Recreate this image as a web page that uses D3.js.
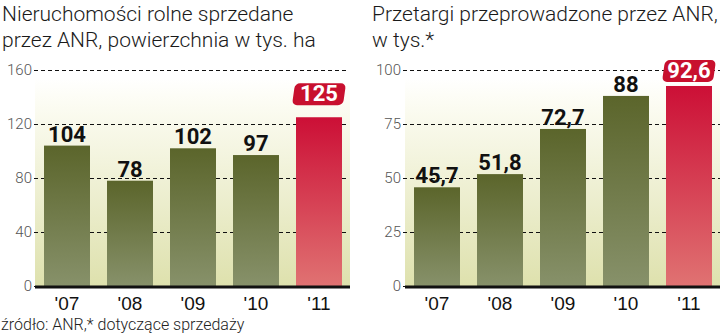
<!DOCTYPE html>
<html><head><meta charset="utf-8">
<script src="https://cdn.jsdelivr.net/npm/d3@7"></script>
<style>
html,body{margin:0;padding:0;background:#fff;}
svg{display:block;}
</style></head>
<body>
<svg id="chart" width="720" height="336"></svg>
<script>
const years = ["'07","'08","'09","'10","'11"];
const areaValues = [104, 78, 102, 97, 125];
const areaLabels = ["104","78","102","97","125"];
const areaTicks = [0, 40, 80, 120, 160];
const tenderValues = [45.7, 51.8, 72.7, 88, 92.6];
const tenderLabels = ["45,7","51,8","72,7","88","92,6"];
const tenderTicks = [0, 25, 50, 75, 100];
const titleArea = ["Nieruchomości rolne sprzedane", "przez ANR, powierzchnia w tys. ha"];
const titleTender = ["Przetargi przeprowadzone przez ANR,", "w tys.*"];
const sourceNote = "źródło: ANR,* dotyczące sprzedaży";

const svg = d3.select("#chart");
const defs = svg.append("defs");

const bg = defs.append("linearGradient").attr("id","bgGrad").attr("x1",0).attr("y1",0).attr("x2",0).attr("y2",1);
bg.append("stop").attr("offset","0%").attr("stop-color","#ffffff");
bg.append("stop").attr("offset","12%").attr("stop-color","#fcfcf3");
bg.append("stop").attr("offset","100%").attr("stop-color","#dee1ad");

const og = defs.append("linearGradient").attr("id","oliveGrad").attr("x1",0).attr("y1",0).attr("x2",0).attr("y2",1);
og.append("stop").attr("offset","0%").attr("stop-color","#5b652b");
og.append("stop").attr("offset","100%").attr("stop-color","#87916a");

const rg = defs.append("linearGradient").attr("id","redGrad").attr("x1",0).attr("y1",0).attr("x2",0).attr("y2",1);
rg.append("stop").attr("offset","0%").attr("stop-color","#cc0f36");
rg.append("stop").attr("offset","100%").attr("stop-color","#e07272");

const FONT = "Roboto, 'Liberation Sans', sans-serif";
const NARROW = "'Liberation Sans Narrow', 'Liberation Sans', sans-serif";

function drawChart(cfg) {
  const baseY = 286, topY = 70;
  const x = d3.scaleBand().domain(years).range([cfg.x0, cfg.x0 + 316]).paddingInner(0.27).paddingOuter(0.143);
  const y = d3.scaleLinear().domain([0, cfg.ticks[cfg.ticks.length-1]]).range([baseY, topY]);
  const g = svg.append("g");

  cfg.title.forEach((t,i) => {
    g.append("text").attr("x", cfg.titleX).attr("y", 21 + i*26)
      .attr("font-family", FONT).attr("font-size", 21).attr("font-weight", 300)
      .attr("fill", "#1a1a1a").text(t);
  });

  g.append("rect").attr("x", cfg.x0).attr("y", topY + 8)
    .attr("width", cfg.bgRight - cfg.x0).attr("height", baseY - topY - 8)
    .attr("fill", "url(#bgGrad)");

  const axis = d3.axisLeft(y).tickValues(cfg.ticks).tickSize(-(cfg.gridRight - cfg.gridX)).tickPadding(2);
  const ag = g.append("g").attr("transform", `translate(${cfg.gridX},0)`).call(axis);
  ag.select(".domain").remove();
  ag.selectAll(".tick line").attr("stroke", "#111").attr("stroke-width", 1).attr("stroke-dasharray", "4,3");
  ag.selectAll(".tick text").attr("font-family", FONT).attr("font-size", 15).attr("fill", "#555").attr("font-weight", 300);

  g.selectAll("rect.bar").data(cfg.values).join("rect").attr("class","bar")
    .attr("x", (d,i) => x(years[i])).attr("width", x.bandwidth())
    .attr("y", d => y(d)).attr("height", d => baseY - y(d))
    .attr("fill", (d,i) => i === cfg.values.length-1 ? "url(#redGrad)" : "url(#oliveGrad)");

  g.append("line").attr("x1", cfg.x0).attr("x2", cfg.bgRight).attr("y1", baseY + 1).attr("y2", baseY + 1)
    .attr("stroke", "#111").attr("stroke-width", 3);

  cfg.values.forEach((v,i) => {
    const cx = x(years[i]) + x.bandwidth()/2;
    const last = i === cfg.values.length-1;
    if (last) {
      const bottom = y(v) - cfg.boxGap, h = 22, w = 51;
      g.append("rect").attr("x", cx - w/2).attr("y", bottom - h).attr("width", w).attr("height", h)
        .attr("rx", 5).attr("fill", "#c8102e")
        .attr("transform", `translate(${cx},${bottom - h/2}) skewX(-8) translate(${-cx},${-(bottom - h/2)})`);
      g.append("text").attr("x", cx).attr("y", bottom - 4).attr("text-anchor","middle")
        .attr("font-family", FONT).attr("font-weight", 700).attr("font-size", 22)
        .attr("fill", "#fff").text(cfg.labels[i]);
    } else {
      g.append("text").attr("x", cx).attr("y", y(v) - 4).attr("text-anchor","middle")
        .attr("font-family", FONT).attr("font-weight", 700).attr("font-size", 22)
        .attr("fill", "#111").text(cfg.labels[i]);
    }
  });

  g.selectAll("text.xl").data(years).join("text").attr("class","xl")
    .attr("x", d => x(d) + x.bandwidth()/2).attr("y", 310).attr("text-anchor","middle")
    .attr("font-family", NARROW).attr("font-size", 19).attr("fill", "#111").text(d => d);
}

drawChart({x0: 35, bgRight: 350, gridX: 34, gridRight: 348, titleX: 2, ticks: areaTicks,
  values: areaValues, labels: areaLabels, title: titleArea, boxGap: 12});
drawChart({x0: 405, bgRight: 720, gridX: 403, gridRight: 720, titleX: 372, ticks: tenderTicks,
  values: tenderValues, labels: tenderLabels, title: titleTender, boxGap: 4});

svg.append("text").attr("x", 1).attr("y", 330).attr("font-family", FONT).attr("font-size", 16)
  .attr("font-weight", 300).attr("fill", "#222").text(sourceNote);
</script>
</body></html>
